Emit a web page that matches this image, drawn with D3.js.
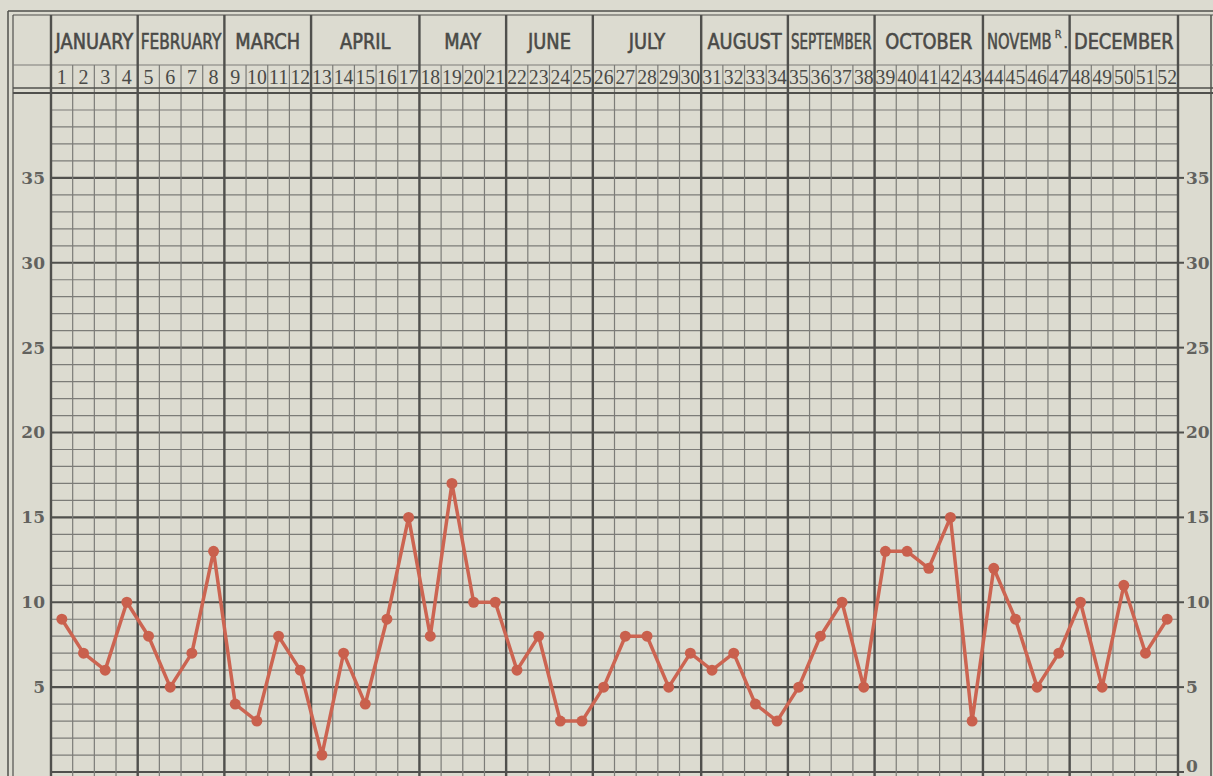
<!DOCTYPE html>
<html>
<head>
<meta charset="utf-8">
<script src="https://cdn.jsdelivr.net/npm/d3@7"></script>
<style>
  body { margin: 0; background: #dcdbd0; }
  svg { display: block; }
</style>
</head>
<body>
<div id="chart"></div>
<script>
// months across the top and how many weeks fall in each
const months = ["JANUARY", "FEBRUARY", "MARCH", "APRIL", "MAY", "JUNE", "JULY", "AUGUST", "SEPTEMBER", "OCTOBER", "NOVEMB", "DECEMBER"];
const weeksPerMonth = [4, 4, 4, 5, 4, 4, 5, 4, 4, 5, 4, 5];
const weeks = d3.range(1, 53);
// weekly counts
const counts = [9, 7, 6, 10, 8, 5, 7, 13, 4, 3,
  8, 6, 1, 7, 4, 9, 15, 8, 17, 10,
  10, 6, 8, 3, 3, 5, 8, 8, 5, 7,
  6, 7, 4, 3, 5, 8, 10, 5, 13, 13,
  12, 15, 3, 12, 9, 5, 7, 10, 5, 11, 7, 9];
const leftTicks = [5, 10, 15, 20, 25, 30, 35];
const rightTicks = [0, 5, 10, 15, 20, 25, 30, 35];

const W = 1213, H = 776;
const pLeft = 51, pRight = 1178, pTop = 93, pBottom = 772;

const svg = d3.select("#chart").append("svg")
  .attr("width", W).attr("height", H);

svg.append("rect").attr("width", W).attr("height", H).attr("fill", "#dcdbd0");

const x = d3.scaleBand().domain(weeks).range([pLeft, pRight]);
const y = d3.scaleLinear().domain([0, 40]).range([pBottom, pTop]);
const bw = x.bandwidth();

// month boundaries (week index where each month starts)
const starts = [];
let acc = 0;
weeksPerMonth.forEach(n => { starts.push(acc); acc += n; });
const xEdge = i => i < 52 ? x(weeks[i]) : pRight;

const ink = "#50504d", thin = "#7c7c78";

// horizontal grid
const grid = svg.append("g");
grid.selectAll("line.h")
  .data(d3.range(0, 41))
  .enter().append("line")
  .attr("x1", pLeft).attr("x2", pRight)
  .attr("y1", d => y(d)).attr("y2", d => y(d))
  .attr("stroke", d => d % 5 == 0 ? ink : thin)
  .attr("stroke-width", d => d % 5 == 0 ? 2.2 : 1.2);

// week lines (inside plot and in the week-number row)
grid.selectAll("line.w")
  .data(weeks.slice(1))
  .enter().append("line")
  .attr("x1", d => x(d)).attr("x2", d => x(d))
  .attr("y1", 65).attr("y2", H)
  .attr("stroke", thin).attr("stroke-width", 1.2);

// frame and header rules
const frame = svg.append("g").attr("stroke", ink).attr("fill", "none");
frame.append("line").attr("x1", 8).attr("x2", W).attr("y1", 11).attr("y2", 11).attr("stroke-width", 1.5);
frame.append("line").attr("x1", 13).attr("x2", W).attr("y1", 15).attr("y2", 15).attr("stroke-width", 1.2);
frame.append("line").attr("x1", 8).attr("x2", 8).attr("y1", 11).attr("y2", H).attr("stroke-width", 1.5);
frame.append("line").attr("x1", 13).attr("x2", 13).attr("y1", 15).attr("y2", H).attr("stroke-width", 1.2);
frame.append("line").attr("x1", 1211).attr("x2", 1211).attr("y1", 15).attr("y2", H).attr("stroke-width", 1.5);
frame.append("line").attr("x1", 13).attr("x2", W).attr("y1", 65).attr("y2", 65).attr("stroke-width", 1.2).attr("stroke", thin);
frame.append("line").attr("x1", 13).attr("x2", W).attr("y1", 88).attr("y2", 88).attr("stroke-width", 1.3);
frame.append("line").attr("x1", 13).attr("x2", W).attr("y1", 93).attr("y2", 93).attr("stroke-width", 2.2);

// month boundaries, plus left/right plot edges
frame.selectAll("line.m")
  .data(starts.concat([52]))
  .enter().append("line")
  .attr("x1", d => xEdge(d)).attr("x2", d => xEdge(d))
  .attr("y1", 15).attr("y2", H)
  .attr("stroke-width", 2.4);

// month labels, squeezed sideways (like condensed type) to fit their cell
const mLab = svg.append("g")
  .attr("font-family", "'DejaVu Sans Condensed', 'DejaVu Sans', sans-serif")
  .attr("fill", "#4a4a47")
  .attr("stroke", "#4a4a47")
  .attr("stroke-width", 0.6)
  .attr("text-anchor", "middle");

const mSize = 22;
months.forEach((m, i) => {
  const x0 = xEdge(starts[i]), x1 = xEdge(starts[i] + weeksPerMonth[i]);
  const isNov = m == "NOVEMB";
  const avail = isNov ? x1 - x0 - 22 : x1 - x0 - 6;
  const cx = isNov ? (x0 + x1) / 2 - 7 : (x0 + x1) / 2;
  const t = mLab.append("text")
    .attr("font-size", mSize)
    .text(m);
  const w0 = t.node().getComputedTextLength();
  const sx = Math.min(0.9, avail / w0);
  t.attr("transform", `translate(${cx},49) scale(${sx},1)`);
  const w = w0 * sx;
  if (isNov) {
    // abbreviation mark: raised R, then a point
    mLab.append("text").attr("text-anchor", "start").attr("font-size", 11)
      .attr("stroke-width", 0.3)
      .attr("x", cx + w / 2 + 3).attr("y", 38).text("R");
    mLab.append("text").attr("text-anchor", "start").attr("font-size", 14)
      .attr("x", cx + w / 2 + 12).attr("y", 48).text(".");
  }
});

// week numbers
svg.append("g")
  .attr("font-family", "'Liberation Serif', 'DejaVu Serif', serif")
  .attr("font-size", 20)
  .attr("fill", "#4a4a47")
  .attr("text-anchor", "middle")
  .selectAll("text")
  .data(weeks)
  .enter().append("text")
  .attr("x", d => x(d) + bw / 2)
  .attr("y", 84)
  .attr("textLength", d => d > 9 ? bw - 2 : null)
  .attr("lengthAdjust", "spacingAndGlyphs")
  .text(d => d);

// y labels, left and right
const yFont = "'DejaVu Serif', 'Liberation Serif', serif";
svg.append("g")
  .attr("font-family", yFont).attr("font-size", 17).attr("font-weight", "bold")
  .attr("fill", "#62625e").attr("text-anchor", "end")
  .selectAll("text").data(leftTicks).enter().append("text")
  .attr("x", 45).attr("y", d => y(d)).attr("dy", "0.35em")
  .text(d => d);

const rt = svg.append("g");
rt.selectAll("line").data(rightTicks).enter().append("line")
  .attr("x1", pRight).attr("x2", pRight + 6)
  .attr("y1", d => y(d)).attr("y2", d => y(d))
  .attr("stroke", ink).attr("stroke-width", 2);
rt.selectAll("text").data(rightTicks).enter().append("text")
  .attr("font-family", yFont).attr("font-size", 17).attr("font-weight", "bold")
  .attr("fill", "#62625e")
  .attr("x", 1186).attr("y", d => d == 0 ? y(d) - 6 : y(d)).attr("dy", "0.35em")
  .text(d => d);

// the red weekly line
const pts = weeks.map((w, i) => ({ week: w, value: counts[i] }));
const line = d3.line()
  .x(d => x(d.week) + bw / 2)
  .y(d => y(d.value));

svg.append("path")
  .datum(pts)
  .attr("fill", "none")
  .attr("stroke", "#cc6451")
  .attr("stroke-width", 3.5)
  .attr("stroke-linejoin", "round")
  .attr("d", line);

svg.append("g").selectAll("circle")
  .data(pts)
  .enter().append("circle")
  .attr("cx", d => x(d.week) + bw / 2)
  .attr("cy", d => y(d.value))
  .attr("r", 5.5)
  .attr("fill", "#c9604d");
</script>
</body>
</html>
